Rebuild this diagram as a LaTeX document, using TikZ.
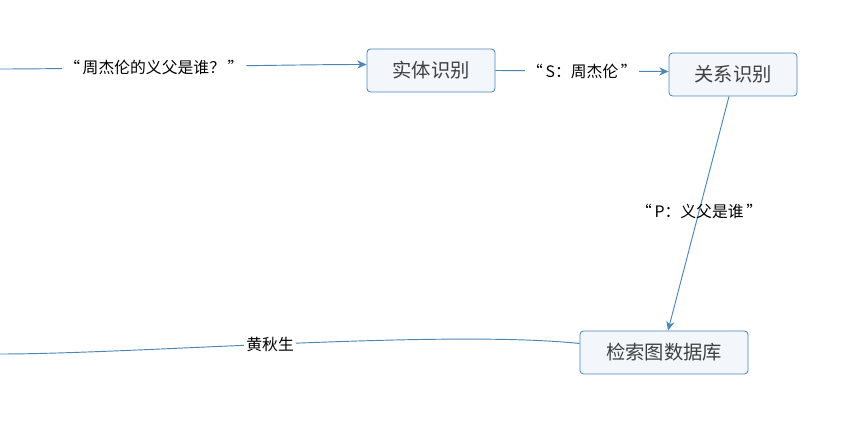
\documentclass[tikz,border=0pt]{standalone}
\usepackage{fontspec}
\setmainfont{Noto Sans CJK SC}
\usepackage{tikz}
\usetikzlibrary{arrows.meta, positioning, calc}
\definecolor{lineblue}{HTML}{4A86B8}
\definecolor{boxfill}{HTML}{F3F7FC}

\begin{document}
\begin{tikzpicture}[
  x=0.03cm, y=-0.03cm,
  box/.style={draw=lineblue, fill=boxfill, rounded corners=3pt, line width=0.7pt,
              minimum width=128*0.03cm, minimum height=43*0.03cm, align=center,
              font=\fontsize{16.5}{18}\selectfont, text=black!75},
  arr/.style={-{Stealth[length=8pt, width=7pt]}, draw=lineblue, line width=0.8pt},
  lnk/.style={draw=lineblue, line width=0.8pt},
  lbl/.style={font=\fontsize{13.5}{15}\selectfont, fill=white, inner sep=2pt}
]
  \useasboundingbox (0,0) rectangle (866,428);

  \node[box] (entity) at (431,70.5) {实体识别};
  \node[box] (relation) at (733,74.5) {关系识别};
  \node[box, minimum width=168*0.03cm] (graphdb) at (664,352.5) {检索图数据库};

  \coordinate (question) at (0,69);
  \coordinate (answer) at (0,354);

  \draw[arr] (question) to[out=0, in=180, looseness=0.6]
       node[lbl, pos=0.43] {“\,周杰伦的义父是谁？\,”} ($(entity.west)+(0,-6)$);
  \draw[arr] (entity.east) -- node[lbl] {“\,S：周杰伦\,”} ($(relation.west)+(0,-3)$);
  \draw[arr] ($(relation.south)+(-4,0)$) --
       node[lbl, fill=none, pos=0.49] {“\,P：义父是谁\,”} ($(graphdb.north)+(4,0)$);
  \draw[lnk] ($(graphdb.west)+(0,-9)$) to[out=174, in=0, looseness=0.6]
       node[lbl, pos=0.53] {黄秋生} (answer);
\end{tikzpicture}
\end{document}
